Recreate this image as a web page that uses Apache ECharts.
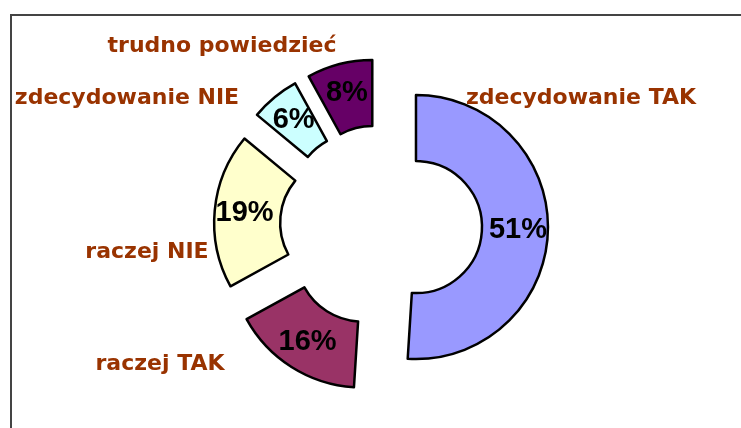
<!DOCTYPE html>
<html>
<head>
<meta charset="utf-8">
<script src="https://cdn.jsdelivr.net/npm/echarts@6/dist/echarts.min.js"></script>
<style>
  html, body { margin: 0; padding: 0; background: #fff; }
  #chart { width: 741px; height: 428px; position: relative; }
  #frame {
    position: absolute; left: 10px; top: 14px; right: 0; bottom: 0;
    border-top: 2px solid #444; border-left: 2px solid #444; pointer-events: none;
  }
</style>
</head>
<body>
<div id="chart"></div>
<div id="frame"></div>
<script>
const categories = ["zdecydowanie TAK", "raczej TAK", "raczej NIE", "zdecydowanie NIE", "trudno powiedzieć"];
const shares = [51, 16, 19, 6, 8];
const sliceColors = ["#9999ff", "#993366", "#ffffcc", "#ccffff", "#660066"];

// where Excel left the category names (label centres)
const nameAnchors = [[581, 98], [160, 364], [147, 252], [127, 98], [222, 46]];

function initDonut() {
  const element = document.getElementById("chart");
  const chart = echarts.init(element);

  const ringItems = categories.map((name, i) => ({
    name,
    value: shares[i],
    selected: true,
    itemStyle: { color: sliceColors[i] },
  }));

  chart.setOption({
    animation: false,
    series: [
      {
        type: "pie",
        center: [381, 226],
        radius: [66, 132],
        startAngle: 90,
        clockwise: true,
        selectedMode: "multiple",
        selectedOffset: 35,
        silent: true,
        avoidLabelOverlap: false,
        itemStyle: { borderColor: "#000", borderWidth: 2.5 },
        select: { itemStyle: { borderColor: "#000", borderWidth: 2.5 } },
        label: {
          position: "inside",
          formatter: "{c}%",
          color: "#000",
          fontFamily: "Liberation Sans, Arial, sans-serif",
          fontWeight: "bold",
          fontSize: 29,
          overflow: "none",
        },
        labelLine: { show: false },
        labelLayout: { hideOverlap: false },
        data: ringItems,
      },
      {
        type: "pie",
        center: [381, 226],
        radius: [66, 132],
        startAngle: 90,
        silent: true,
        itemStyle: { color: "transparent", borderWidth: 0 },
        label: {
          formatter: "{b}",
          color: "#993300",
          fontFamily: "DejaVu Sans, sans-serif",
          fontWeight: "bold",
          fontSize: 22,
          overflow: "none",
        },
        labelLine: { show: false },
        labelLayout: (params) => ({
          x: nameAnchors[params.dataIndex][0],
          y: nameAnchors[params.dataIndex][1],
          align: "center",
          verticalAlign: "middle",
        }),
        data: categories.map((name, i) => ({ name, value: shares[i] })),
      },
    ],
  });
}

document.addEventListener("DOMContentLoaded", initDonut);
</script>
</body>
</html>
